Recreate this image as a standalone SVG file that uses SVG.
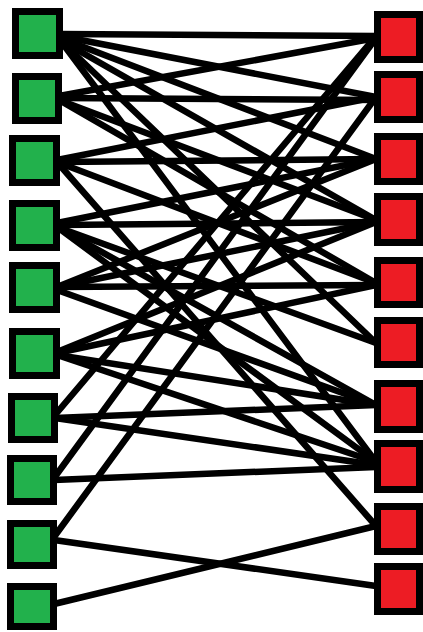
<svg xmlns="http://www.w3.org/2000/svg" width="423" height="632" viewBox="0 0 423 632">
<style>
.g{fill:#22B14C;stroke:#000;stroke-width:7}
.r{fill:#ED1C24;stroke:#000;stroke-width:7}
.e line{stroke:#000;stroke-width:6.5;stroke-linecap:round}
</style>
<rect width="423" height="632" fill="#fff"/>
<g class="e" id="edges">
<line x1="60" y1="34" x2="376" y2="36"/>
<line x1="60" y1="36" x2="376" y2="97"/>
<line x1="60" y1="38" x2="376" y2="159"/>
<line x1="60" y1="40" x2="376" y2="220"/>
<line x1="60" y1="40" x2="376" y2="343"/>
<line x1="60" y1="40" x2="376" y2="462"/>
<line x1="59" y1="96" x2="376" y2="38"/>
<line x1="59" y1="98" x2="376" y2="100"/>
<line x1="59" y1="100" x2="376" y2="220"/>
<line x1="59" y1="100" x2="376" y2="283"/>
<line x1="57" y1="160" x2="376" y2="97"/>
<line x1="57" y1="162" x2="376" y2="159"/>
<line x1="57" y1="162" x2="376" y2="283"/>
<line x1="57" y1="162" x2="376" y2="526"/>
<line x1="57" y1="223" x2="376" y2="159"/>
<line x1="57" y1="225" x2="376" y2="222"/>
<line x1="57" y1="227" x2="376" y2="343"/>
<line x1="57" y1="227" x2="376" y2="405"/>
<line x1="57" y1="227" x2="376" y2="462"/>
<line x1="57" y1="287" x2="376" y2="159"/>
<line x1="57" y1="287" x2="376" y2="222"/>
<line x1="57" y1="287" x2="376" y2="285"/>
<line x1="57" y1="290" x2="376" y2="405"/>
<line x1="57" y1="352" x2="376" y2="222"/>
<line x1="57" y1="353" x2="376" y2="285"/>
<line x1="57" y1="355" x2="376" y2="405"/>
<line x1="57" y1="355" x2="376" y2="462"/>
<line x1="55" y1="415" x2="376" y2="36"/>
<line x1="55" y1="418" x2="376" y2="405"/>
<line x1="55" y1="418" x2="376" y2="465"/>
<line x1="54" y1="478" x2="376" y2="38"/>
<line x1="54" y1="480" x2="376" y2="467"/>
<line x1="54" y1="537" x2="376" y2="97"/>
<line x1="54" y1="540" x2="376" y2="586"/>
<line x1="54" y1="604" x2="376" y2="526"/>
</g>
<g id="L1"><rect class="g" x="15.5" y="11.5" width="44" height="44"/></g>
<g id="L2"><rect class="g" x="15.5" y="76.5" width="43" height="44"/></g>
<g id="L3"><rect class="g" x="12.5" y="138.5" width="44" height="44"/></g>
<g id="L4"><rect class="g" x="12.5" y="203.5" width="44" height="44"/></g>
<g id="L5"><rect class="g" x="12.5" y="265.5" width="44" height="44"/></g>
<g id="L6"><rect class="g" x="12.5" y="331.5" width="44" height="44"/></g>
<g id="L7"><rect class="g" x="11.5" y="396.5" width="43" height="43"/></g>
<g id="L8"><rect class="g" x="10.5" y="458.5" width="43" height="43"/></g>
<g id="L9"><rect class="g" x="10.5" y="523.5" width="43" height="42"/></g>
<g id="L10"><rect class="g" x="10.5" y="586.5" width="43" height="40"/></g>
<g id="R1"><rect class="r" x="377.5" y="14.5" width="42" height="45"/></g>
<g id="R2"><rect class="r" x="377.5" y="74.5" width="42" height="45"/></g>
<g id="R3"><rect class="r" x="377.5" y="136.5" width="42" height="45"/></g>
<g id="R4"><rect class="r" x="377.5" y="196.5" width="42" height="46"/></g>
<g id="R5"><rect class="r" x="377.5" y="260.5" width="42" height="44"/></g>
<g id="R6"><rect class="r" x="377.5" y="320.5" width="42" height="44"/></g>
<g id="R7"><rect class="r" x="377.5" y="383.5" width="42" height="46"/></g>
<g id="R8"><rect class="r" x="377.5" y="443.5" width="42" height="46"/></g>
<g id="R9"><rect class="r" x="377.5" y="506.5" width="42" height="45"/></g>
<g id="R10"><rect class="r" x="377.5" y="566.5" width="42" height="45"/></g>
</svg>
